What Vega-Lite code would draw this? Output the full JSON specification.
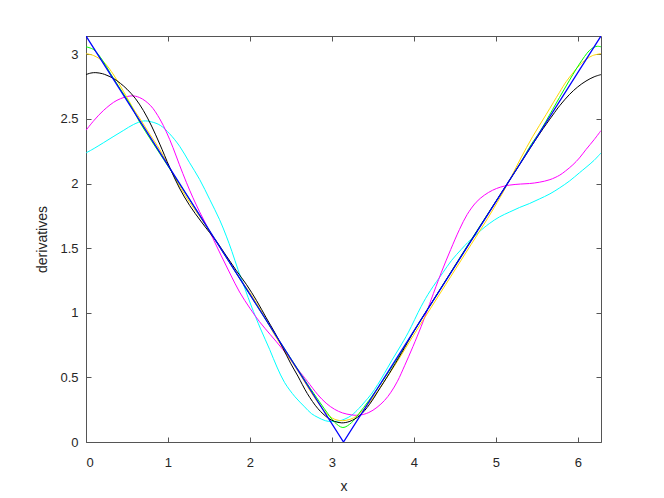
{
  "$schema": "https://vega.github.io/schema/vega-lite/v6.json",
  "width": 515,
  "height": 406,
  "autosize": {"type": "none"},
  "padding": {"left": 86, "top": 36, "right": 63, "bottom": 56},
  "background": "white",
  "config": {
    "view": {"stroke": null},
    "axis": {
      "labelFont": "Liberation Sans",
      "titleFont": "Liberation Sans",
      "labelFontSize": 13,
      "titleFontSize": 14,
      "labelColor": "#262626",
      "titleColor": "#262626",
      "titleFontWeight": "normal",
      "domainColor": "#555555",
      "tickColor": "#555555",
      "domainWidth": 1,
      "tickWidth": 1,
      "grid": false
    }
  },
  "data": {
    "values": [
      {"s": "1c", "x": 0, "y": 2.237}, {"s": "1c", "x": 0.1, "y": 2.272}, {"s": "1c", "x": 0.216, "y": 2.317}, {"s": "1c", "x": 0.33, "y": 2.362}, {"s": "1c", "x": 0.46, "y": 2.412}, {"s": "1c", "x": 0.58, "y": 2.457}, {"s": "1c", "x": 0.7, "y": 2.484}, {"s": "1c", "x": 0.8, "y": 2.477}, {"s": "1c", "x": 0.907, "y": 2.45}, {"s": "1c", "x": 1.02, "y": 2.385}, {"s": "1c", "x": 1.143, "y": 2.288}, {"s": "1c", "x": 1.26, "y": 2.165}, {"s": "1c", "x": 1.387, "y": 2.031}, {"s": "1c", "x": 1.51, "y": 1.876}, {"s": "1c", "x": 1.63, "y": 1.72}, {"s": "1c", "x": 1.712, "y": 1.593}, {"s": "1c", "x": 1.78, "y": 1.475}, {"s": "1c", "x": 1.854, "y": 1.335}, {"s": "1c", "x": 1.94, "y": 1.185}, {"s": "1c", "x": 2.017, "y": 1.052}, {"s": "1c", "x": 2.13, "y": 0.875}, {"s": "1c", "x": 2.24, "y": 0.717}, {"s": "1c", "x": 2.33, "y": 0.58}, {"s": "1c", "x": 2.423, "y": 0.46}, {"s": "1c", "x": 2.55, "y": 0.35}, {"s": "1c", "x": 2.667, "y": 0.272}, {"s": "1c", "x": 2.75, "y": 0.22}, {"s": "1c", "x": 2.83, "y": 0.19}, {"s": "1c", "x": 2.92, "y": 0.165}, {"s": "1c", "x": 2.99, "y": 0.158}, {"s": "1c", "x": 3.08, "y": 0.162}, {"s": "1c", "x": 3.16, "y": 0.178}, {"s": "1c", "x": 3.237, "y": 0.205}, {"s": "1c", "x": 3.33, "y": 0.26}, {"s": "1c", "x": 3.4, "y": 0.31}, {"s": "1c", "x": 3.48, "y": 0.37}, {"s": "1c", "x": 3.56, "y": 0.445}, {"s": "1c", "x": 3.64, "y": 0.53}, {"s": "1c", "x": 3.73, "y": 0.63}, {"s": "1c", "x": 3.83, "y": 0.735}, {"s": "1c", "x": 3.93, "y": 0.845}, {"s": "1c", "x": 4.09, "y": 1.05}, {"s": "1c", "x": 4.2, "y": 1.17}, {"s": "1c", "x": 4.354, "y": 1.31}, {"s": "1c", "x": 4.46, "y": 1.405}, {"s": "1c", "x": 4.578, "y": 1.49}, {"s": "1c", "x": 4.66, "y": 1.545}, {"s": "1c", "x": 4.74, "y": 1.593}, {"s": "1c", "x": 4.8, "y": 1.628}, {"s": "1c", "x": 4.92, "y": 1.69}, {"s": "1c", "x": 5.045, "y": 1.742}, {"s": "1c", "x": 5.17, "y": 1.78}, {"s": "1c", "x": 5.29, "y": 1.815}, {"s": "1c", "x": 5.41, "y": 1.845}, {"s": "1c", "x": 5.53, "y": 1.88}, {"s": "1c", "x": 5.66, "y": 1.92}, {"s": "1c", "x": 5.78, "y": 1.967}, {"s": "1c", "x": 5.9, "y": 2.02}, {"s": "1c", "x": 6.02, "y": 2.083}, {"s": "1c", "x": 6.1, "y": 2.125}, {"s": "1c", "x": 6.2, "y": 2.18}, {"s": "1c", "x": 6.2832, "y": 2.237},

      {"s": "2m", "x": 0, "y": 2.412}, {"s": "2m", "x": 0.1, "y": 2.49}, {"s": "2m", "x": 0.216, "y": 2.567}, {"s": "2m", "x": 0.378, "y": 2.644}, {"s": "2m", "x": 0.55, "y": 2.678}, {"s": "2m", "x": 0.655, "y": 2.665}, {"s": "2m", "x": 0.785, "y": 2.605}, {"s": "2m", "x": 0.9, "y": 2.5}, {"s": "2m", "x": 0.98, "y": 2.4}, {"s": "2m", "x": 1.06, "y": 2.28}, {"s": "2m", "x": 1.14, "y": 2.145}, {"s": "2m", "x": 1.224, "y": 2.01}, {"s": "2m", "x": 1.305, "y": 1.89}, {"s": "2m", "x": 1.387, "y": 1.78}, {"s": "2m", "x": 1.468, "y": 1.68}, {"s": "2m", "x": 1.549, "y": 1.575}, {"s": "2m", "x": 1.651, "y": 1.44}, {"s": "2m", "x": 1.76, "y": 1.3}, {"s": "2m", "x": 1.874, "y": 1.16}, {"s": "2m", "x": 2.0, "y": 1.035}, {"s": "2m", "x": 2.118, "y": 0.93}, {"s": "2m", "x": 2.25, "y": 0.83}, {"s": "2m", "x": 2.4, "y": 0.717}, {"s": "2m", "x": 2.585, "y": 0.563}, {"s": "2m", "x": 2.7, "y": 0.47}, {"s": "2m", "x": 2.83, "y": 0.365}, {"s": "2m", "x": 2.93, "y": 0.3}, {"s": "2m", "x": 3.033, "y": 0.253}, {"s": "2m", "x": 3.13, "y": 0.225}, {"s": "2m", "x": 3.237, "y": 0.21}, {"s": "2m", "x": 3.33, "y": 0.207}, {"s": "2m", "x": 3.45, "y": 0.228}, {"s": "2m", "x": 3.55, "y": 0.268}, {"s": "2m", "x": 3.643, "y": 0.322}, {"s": "2m", "x": 3.72, "y": 0.385}, {"s": "2m", "x": 3.8, "y": 0.47}, {"s": "2m", "x": 3.887, "y": 0.59}, {"s": "2m", "x": 3.99, "y": 0.74}, {"s": "2m", "x": 4.09, "y": 0.895}, {"s": "2m", "x": 4.15, "y": 0.995}, {"s": "2m", "x": 4.21, "y": 1.1}, {"s": "2m", "x": 4.334, "y": 1.31}, {"s": "2m", "x": 4.45, "y": 1.49}, {"s": "2m", "x": 4.557, "y": 1.645}, {"s": "2m", "x": 4.65, "y": 1.76}, {"s": "2m", "x": 4.76, "y": 1.855}, {"s": "2m", "x": 4.86, "y": 1.91}, {"s": "2m", "x": 4.96, "y": 1.948}, {"s": "2m", "x": 5.06, "y": 1.973}, {"s": "2m", "x": 5.17, "y": 1.988}, {"s": "2m", "x": 5.3, "y": 1.996}, {"s": "2m", "x": 5.41, "y": 2.0}, {"s": "2m", "x": 5.53, "y": 2.01}, {"s": "2m", "x": 5.66, "y": 2.03}, {"s": "2m", "x": 5.78, "y": 2.065}, {"s": "2m", "x": 5.85, "y": 2.097}, {"s": "2m", "x": 5.94, "y": 2.145}, {"s": "2m", "x": 6.02, "y": 2.198}, {"s": "2m", "x": 6.1, "y": 2.263}, {"s": "2m", "x": 6.2, "y": 2.34}, {"s": "2m", "x": 6.2832, "y": 2.41},

      {"s": "3y", "x": 0, "y": 3.005}, {"s": "3y", "x": 0.094, "y": 2.99}, {"s": "3y", "x": 0.216, "y": 2.94}, {"s": "3y", "x": 0.338, "y": 2.84}, {"s": "3y", "x": 0.46, "y": 2.71}, {"s": "3y", "x": 0.582, "y": 2.575}, {"s": "3y", "x": 0.655, "y": 2.505}, {"s": "3y", "x": 0.78, "y": 2.38}, {"s": "3y", "x": 0.899, "y": 2.263}, {"s": "3y", "x": 1.061, "y": 2.075}, {"s": "3y", "x": 1.16, "y": 1.96}, {"s": "3y", "x": 1.265, "y": 1.855}, {"s": "3y", "x": 1.37, "y": 1.76}, {"s": "3y", "x": 1.468, "y": 1.67}, {"s": "3y", "x": 1.6, "y": 1.54}, {"s": "3y", "x": 1.732, "y": 1.41}, {"s": "3y", "x": 1.87, "y": 1.27}, {"s": "3y", "x": 2.0, "y": 1.155}, {"s": "3y", "x": 2.15, "y": 1.0}, {"s": "3y", "x": 2.3, "y": 0.83}, {"s": "3y", "x": 2.45, "y": 0.68}, {"s": "3y", "x": 2.6, "y": 0.535}, {"s": "3y", "x": 2.75, "y": 0.38}, {"s": "3y", "x": 2.87, "y": 0.27}, {"s": "3y", "x": 2.97, "y": 0.2}, {"s": "3y", "x": 3.05, "y": 0.172}, {"s": "3y", "x": 3.13, "y": 0.165}, {"s": "3y", "x": 3.22, "y": 0.175}, {"s": "3y", "x": 3.3, "y": 0.2}, {"s": "3y", "x": 3.4, "y": 0.26}, {"s": "3y", "x": 3.5, "y": 0.34}, {"s": "3y", "x": 3.65, "y": 0.48}, {"s": "3y", "x": 3.8, "y": 0.625}, {"s": "3y", "x": 4.0, "y": 0.83}, {"s": "3y", "x": 4.2, "y": 1.03}, {"s": "3y", "x": 4.45, "y": 1.28}, {"s": "3y", "x": 4.7, "y": 1.53}, {"s": "3y", "x": 4.9, "y": 1.73}, {"s": "3y", "x": 5.05, "y": 1.89}, {"s": "3y", "x": 5.15, "y": 2.005}, {"s": "3y", "x": 5.3, "y": 2.19}, {"s": "3y", "x": 5.451, "y": 2.365}, {"s": "3y", "x": 5.615, "y": 2.535}, {"s": "3y", "x": 5.777, "y": 2.706}, {"s": "3y", "x": 5.86, "y": 2.79}, {"s": "3y", "x": 5.94, "y": 2.855}, {"s": "3y", "x": 6.02, "y": 2.915}, {"s": "3y", "x": 6.1, "y": 2.96}, {"s": "3y", "x": 6.18, "y": 2.99}, {"s": "3y", "x": 6.2832, "y": 3.005},

      {"s": "4g", "x": 0, "y": 3.058}, {"s": "4g", "x": 0.094, "y": 3.036}, {"s": "4g", "x": 0.2, "y": 2.955}, {"s": "4g", "x": 0.3, "y": 2.85}, {"s": "4g", "x": 0.4, "y": 2.75}, {"s": "4g", "x": 0.55, "y": 2.6}, {"s": "4g", "x": 0.655, "y": 2.475}, {"s": "4g", "x": 0.8, "y": 2.33}, {"s": "4g", "x": 1.0, "y": 2.135}, {"s": "4g", "x": 1.25, "y": 1.89}, {"s": "4g", "x": 1.5, "y": 1.64}, {"s": "4g", "x": 1.75, "y": 1.39}, {"s": "4g", "x": 2.0, "y": 1.14}, {"s": "4g", "x": 2.25, "y": 0.89}, {"s": "4g", "x": 2.5, "y": 0.645}, {"s": "4g", "x": 2.7, "y": 0.45}, {"s": "4g", "x": 2.85, "y": 0.31}, {"s": "4g", "x": 2.95, "y": 0.22}, {"s": "4g", "x": 3.03, "y": 0.155}, {"s": "4g", "x": 3.134, "y": 0.112}, {"s": "4g", "x": 3.24, "y": 0.15}, {"s": "4g", "x": 3.33, "y": 0.22}, {"s": "4g", "x": 3.45, "y": 0.32}, {"s": "4g", "x": 3.6, "y": 0.455}, {"s": "4g", "x": 3.8, "y": 0.65}, {"s": "4g", "x": 4.05, "y": 0.91}, {"s": "4g", "x": 4.3, "y": 1.16}, {"s": "4g", "x": 4.55, "y": 1.415}, {"s": "4g", "x": 4.8, "y": 1.665}, {"s": "4g", "x": 5.05, "y": 1.91}, {"s": "4g", "x": 5.3, "y": 2.16}, {"s": "4g", "x": 5.43, "y": 2.3}, {"s": "4g", "x": 5.533, "y": 2.397}, {"s": "4g", "x": 5.695, "y": 2.575}, {"s": "4g", "x": 5.858, "y": 2.755}, {"s": "4g", "x": 6.02, "y": 2.925}, {"s": "4g", "x": 6.14, "y": 3.028}, {"s": "4g", "x": 6.2, "y": 3.055}, {"s": "4g", "x": 6.24, "y": 3.062}, {"s": "4g", "x": 6.2832, "y": 3.058},

      {"s": "5k", "x": 0, "y": 2.843}, {"s": "5k", "x": 0.06, "y": 2.855}, {"s": "5k", "x": 0.12, "y": 2.858}, {"s": "5k", "x": 0.2, "y": 2.85}, {"s": "5k", "x": 0.256, "y": 2.837}, {"s": "5k", "x": 0.33, "y": 2.815}, {"s": "5k", "x": 0.42, "y": 2.775}, {"s": "5k", "x": 0.5, "y": 2.73}, {"s": "5k", "x": 0.6, "y": 2.66}, {"s": "5k", "x": 0.7, "y": 2.565}, {"s": "5k", "x": 0.8, "y": 2.445}, {"s": "5k", "x": 0.9, "y": 2.305}, {"s": "5k", "x": 1.021, "y": 2.125}, {"s": "5k", "x": 1.14, "y": 1.965}, {"s": "5k", "x": 1.265, "y": 1.83}, {"s": "5k", "x": 1.4, "y": 1.71}, {"s": "5k", "x": 1.509, "y": 1.62}, {"s": "5k", "x": 1.59, "y": 1.554}, {"s": "5k", "x": 1.712, "y": 1.44}, {"s": "5k", "x": 1.83, "y": 1.33}, {"s": "5k", "x": 1.956, "y": 1.22}, {"s": "5k", "x": 2.08, "y": 1.095}, {"s": "5k", "x": 2.2, "y": 0.96}, {"s": "5k", "x": 2.3, "y": 0.85}, {"s": "5k", "x": 2.4, "y": 0.73}, {"s": "5k", "x": 2.5, "y": 0.605}, {"s": "5k", "x": 2.585, "y": 0.51}, {"s": "5k", "x": 2.7, "y": 0.375}, {"s": "5k", "x": 2.83, "y": 0.258}, {"s": "5k", "x": 2.95, "y": 0.187}, {"s": "5k", "x": 3.03, "y": 0.16}, {"s": "5k", "x": 3.12, "y": 0.148}, {"s": "5k", "x": 3.22, "y": 0.16}, {"s": "5k", "x": 3.34, "y": 0.205}, {"s": "5k", "x": 3.46, "y": 0.292}, {"s": "5k", "x": 3.56, "y": 0.39}, {"s": "5k", "x": 3.7, "y": 0.53}, {"s": "5k", "x": 3.85, "y": 0.69}, {"s": "5k", "x": 4.0, "y": 0.855}, {"s": "5k", "x": 4.25, "y": 1.11}, {"s": "5k", "x": 4.5, "y": 1.36}, {"s": "5k", "x": 4.75, "y": 1.61}, {"s": "5k", "x": 5.0, "y": 1.86}, {"s": "5k", "x": 5.289, "y": 2.145}, {"s": "5k", "x": 5.533, "y": 2.384}, {"s": "5k", "x": 5.695, "y": 2.53}, {"s": "5k", "x": 5.78, "y": 2.603}, {"s": "5k", "x": 5.9, "y": 2.69}, {"s": "5k", "x": 6.0, "y": 2.748}, {"s": "5k", "x": 6.1, "y": 2.793}, {"s": "5k", "x": 6.2, "y": 2.826}, {"s": "5k", "x": 6.2832, "y": 2.843},

      {"s": "6b", "x": 0, "y": 3.14159}, {"s": "6b", "x": 3.14159, "y": 0}, {"s": "6b", "x": 6.28319, "y": 3.14159}
    ]
  },
  "layer": [
    {
      "transform": [{"filter": "datum.s !== '6b'"}],
      "mark": {"type": "line", "interpolate": "catmull-rom", "strokeWidth": 1, "clip": true},
      "encoding": {
        "x": {
          "field": "x", "type": "quantitative",
          "scale": {"domain": [0, 6.283185], "nice": false, "zero": false},
          "axis": {"orient": "bottom", "values": [0, 1, 2, 3, 4, 5, 6], "format": "~g", "tickSize": -5, "labelPadding": 19, "title": "x", "titlePadding": 10}
        },
        "y": {
          "field": "y", "type": "quantitative",
          "scale": {"domain": [0, 3.141593], "nice": false, "zero": false},
          "axis": {"orient": "left", "values": [0, 0.5, 1, 1.5, 2, 2.5, 3], "format": "~g", "tickSize": -5, "labelPadding": 13, "title": "derivatives", "titlePadding": 10}
        },
        "color": {
          "field": "s", "type": "nominal",
          "scale": {"domain": ["1c", "2m", "3y", "4g", "5k"], "range": ["#00ffff", "#ff00ff", "#ffd700", "#00ff00", "#000000"]},
          "legend": null
        }
      }
    },
    {
      "transform": [{"filter": "datum.s === '6b'"}],
      "mark": {"type": "line", "interpolate": "linear", "strokeWidth": 1.3, "color": "#0000ff", "clip": true},
      "encoding": {
        "x": {
          "field": "x", "type": "quantitative",
          "axis": {"orient": "top", "values": [0, 1, 2, 3, 4, 5, 6], "labels": false, "tickSize": -5, "title": null}
        },
        "y": {
          "field": "y", "type": "quantitative",
          "axis": {"orient": "right", "values": [0, 0.5, 1, 1.5, 2, 2.5, 3], "labels": false, "tickSize": -5, "title": null}
        }
      }
    }
  ],
  "resolve": {"axis": {"x": "independent", "y": "independent"}}
}
